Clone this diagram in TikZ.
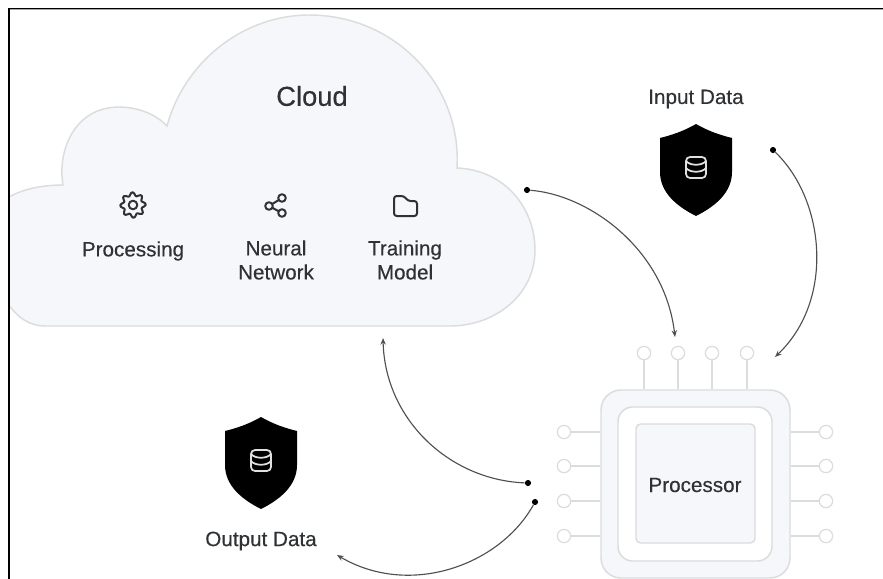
\documentclass[tikz,border=0pt]{standalone}
\usepackage{fontspec}
\setmainfont{Liberation Sans}
\newfontfamily\medfont[FakeBold=0.3]{Liberation Sans}
\usetikzlibrary{arrows.meta}
\definecolor{cloudfill}{HTML}{F5F7FA}
\definecolor{edgegray}{HTML}{DADCDD}
\definecolor{ink}{HTML}{2E3235}
\tikzset{
  lbl/.style={text=ink,align=center,inner sep=0pt,font=\medfont\fontsize{15.5}{18}\selectfont},
  outline/.style={draw=edgegray,line width=1.1pt},
  icon/.style={draw=ink,line width=1.5pt,line join=round},
  flow/.style={draw=ink!85,line width=0.85pt,-{Stealth[length=5pt,width=4pt]}},
  blackdot/.style={circle,fill=black,inner sep=0pt,minimum size=4.6pt},
  pin/.style={circle,draw=edgegray,fill=white,line width=0.9pt,inner sep=0pt,minimum size=10pt},
  pinline/.style={draw=edgegray,line width=1.1pt},
  shieldpic/.pic={
    \fill[black] (0,0) .. controls (12,7) and (24,11) .. (36,14)
      -- (36,48) .. controls (36,68) and (20,82) .. (0,92)
      .. controls (-20,82) and (-36,68) .. (-36,48) -- (-36,14)
      .. controls (-24,11) and (-12,7) .. (0,0) -- cycle;
    \draw[white!88!black,line width=1.3pt,rounded corners=3pt] (-10,33) rectangle (10,54);
    \draw[white!88!black,line width=1.3pt] (-10,37) .. controls (-6,42) and (6,42) .. (10,37);
    \draw[white!88!black,line width=1.3pt] (-10,44) .. controls (-6,49) and (6,49) .. (10,44);
  }
}
\begin{document}
\begin{tikzpicture}[x=0.75pt,y=-0.75pt]
\useasboundingbox (0,0) rectangle (883,579);
% cloud
\path[fill=cloudfill,outline] (9,197) .. controls (25,188) and (45,185) .. (63,185)
  .. controls (57,150) and (75,107) .. (119,107)
  .. controls (140,107) and (158,116) .. (167,126)
  .. controls (185,60) and (245,15) .. (309,15)
  .. controls (395,15) and (462,85) .. (457,168)
  .. controls (505,170) and (535,208) .. (535,250)
  .. controls (535,295) and (495,326) .. (450,326)
  -- (45,326) .. controls (30,326) and (18,318) .. (9,305) -- cycle;
\node[lbl,font=\medfont\fontsize{20.5}{24}\selectfont] (cloud) at (312,96) {Cloud};
% gear
\draw[icon] plot[smooth cycle,samples=48,domain=0:352.5,variable=\a]
  ({133+(11+1.8*cos(8*\a+22.5))*cos(\a)},{205+(11+1.8*cos(8*\a+22.5))*sin(\a)});
\draw[icon] (133,205) circle (4.3);
% share
\draw[icon] (269,206) -- (282,198) (269,206) -- (282,213);
\draw[icon,fill=cloudfill] (282,198) circle (3.8) (269,206) circle (3.8) (282,213) circle (3.8);
% folder
\draw[icon,rounded corners=2pt] (394,216) -- (394,196) -- (404,196) -- (408,201) -- (417,201) -- (417,216) -- cycle;
\node[lbl] (processing) at (133,251) {Processing};
\node[lbl] (neural) at (276,260) {Neural\\Network};
\node[lbl] (training) at (405,260) {Training\\Model};
% input / output
\node[lbl] (input) at (696,99) {Input Data};
\path (696,124) pic {shieldpic};
\node[lbl] (output) at (261,541) {Output Data};
\path (261,417) pic {shieldpic};
% chip
\node[draw=edgegray,fill=cloudfill,line width=1.1pt,rounded corners=15pt,minimum width=141.75pt,minimum height=141pt,inner sep=0pt] (chip) at (695.5,484) {};
\node[draw=edgegray,fill=white,line width=1.1pt,rounded corners=11pt,minimum width=115.5pt,minimum height=115.5pt,inner sep=0pt] (mid) at (695,484) {};
\node[draw=edgegray,fill=cloudfill,line width=1.1pt,rounded corners=3.5pt,minimum width=89.25pt,minimum height=89.25pt,inner sep=0pt] (core) at (695.5,483.5) {};
\node[lbl] (proc) at (695,485) {Processor};
\foreach \n/\x in {1/644,2/678,3/712,4/747}{
  \node[pin] (t\n) at (\x,353) {};
  \draw[pinline] (t\n) -- (t\n |- chip.north);
}
\foreach \n/\y in {1/432,2/466,3/501,4/536}{
  \node[pin] (l\n) at (564,\y) {};
  \node[pin] (r\n) at (826,\y) {};
  \draw[pinline] (l\n) -- (l\n -| chip.west);
  \draw[pinline] (r\n) -- (r\n -| chip.east);
}
% connectors
\node[blackdot] (d1) at (527,190) {};
\coordinate (e1) at (675,337);
\draw[flow] (d1) .. controls (590,195) and (665,250) .. (e1);
\node[blackdot] (d2) at (773,150) {};
\coordinate (e2) at (775,357);
\draw[flow] (d2) .. controls (825,200) and (835,300) .. (e2);
\node[blackdot] (d3) at (528,483) {};
\coordinate (e3) at (383,338);
\draw[flow] (d3) .. controls (450,480) and (385,420) .. (e3);
\node[blackdot] (d4) at (535,502) {};
\coordinate (e4) at (337,555);
\draw[flow] (d4) .. controls (500,565) and (410,598) .. (e4);
% frame
\draw[gray!70,line width=0.75pt] (8,9.5) -- (883,9.5);
\draw[gray!70,line width=0.75pt] (8,9.5) -- (8,579);
\draw[black,line width=1.1pt] (9,8.5) -- (883,8.5);
\draw[black,line width=1.1pt] (9,8) -- (9,579);
\end{tikzpicture}
\end{document}
